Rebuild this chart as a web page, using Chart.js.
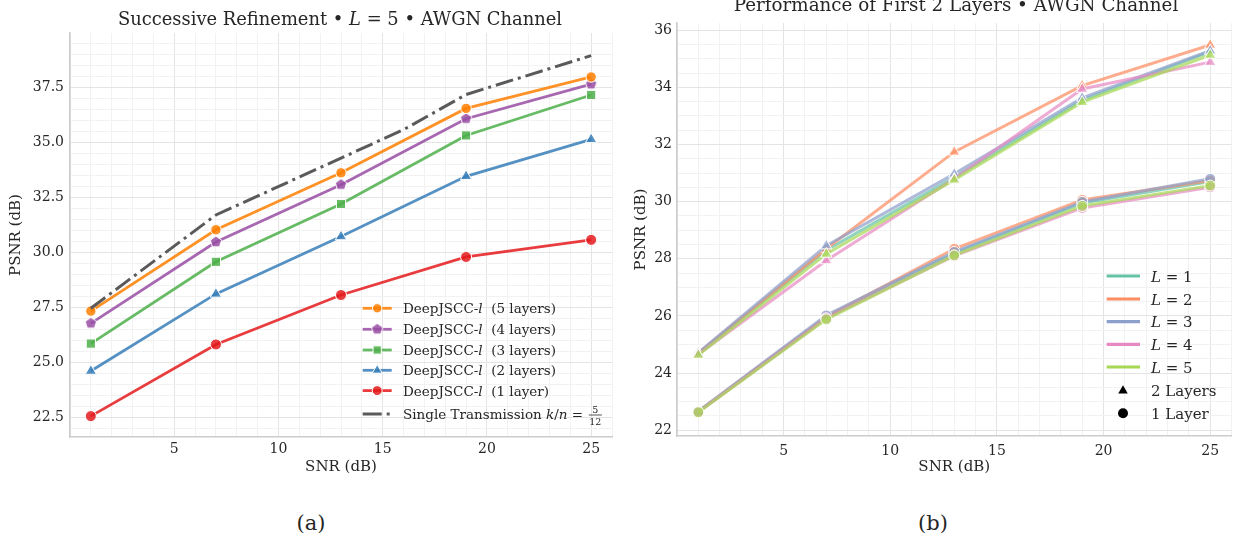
<!DOCTYPE html>
<html>
<head>
<meta charset="utf-8">
<script src="https://cdn.jsdelivr.net/npm/chart.js@4.4.1/dist/chart.umd.min.js"></script>
<style>
    body { margin: 0; background: #fff; width: 1239px; height: 541px; overflow: hidden; position: relative; font-family: 'DejaVu Serif', serif; }
    canvas { position: absolute; top: 0; }
    #grafica_a { left: 0; }
    #grafica_b { left: 630px; }
    .pie { position: absolute; font-size: 21px; color: #262626; transform: translate(-50%, -50%); }
</style>
</head>
<body>
<canvas id="grafica_a" width="630" height="480"></canvas>
<canvas id="grafica_b" width="609" height="480"></canvas>
<div class="pie" style="left:311px; top:523px">(a)</div>
<div class="pie" style="left:933px; top:523px">(b)</div>
<script>
// datos
const snr = [1, 7, 13, 19, 25];

const psnr5Capas = [27.33, 31.03, 33.62, 36.55, 37.98];
const psnr4Capas = [26.77, 30.47, 33.08, 36.08, 37.65];
const psnr3Capas = [25.85, 29.57, 32.20, 35.32, 37.16];
const psnr2Capas = [24.60, 28.11, 30.72, 33.46, 35.14];
const psnr1Capa = [22.55, 25.81, 28.06, 29.79, 30.57];

const snrUnica = [1, 7, 13, 16, 19, 25];
const psnrUnica = [27.46, 31.70, 34.29, 35.58, 37.18, 38.95];

// grafica (b): primeras 2 capas (triangulos) y 1 capa (circulos) por cada L
const dosCapasL1 = [24.68, 28.30, 30.85, 33.55, 35.25];
const dosCapasL2 = [24.70, 28.35, 31.74, 34.06, 35.48];
const dosCapasL3 = [24.72, 28.46, 30.97, 33.63, 35.28];
const dosCapasL4 = [24.66, 27.94, 30.80, 33.94, 34.88];
const dosCapasL5 = [24.63, 28.17, 30.76, 33.48, 35.13];

const unaCapaL1 = [22.65, 25.95, 28.20, 29.95, 30.70];
const unaCapaL2 = [22.66, 25.97, 28.35, 30.06, 30.74];
const unaCapaL3 = [22.67, 26.02, 28.24, 29.99, 30.80];
const unaCapaL4 = [22.64, 25.92, 28.10, 29.78, 30.50];
const unaCapaL5 = [22.63, 25.88, 28.12, 29.85, 30.56];

const etiquetasCapas = ['5 layers', '4 layers', '3 layers', '2 layers', '1 layer'];
const valoresL = ['1', '2', '3', '4', '5'];

const FUENTE = '"DejaVu Serif", serif';
const TEXTO = '#262626';

function puntos(xs, ys) {
    return xs.map((x, i) => ({x: x, y: ys[i]}));
}

function esMultiplo(v, paso) {
    const r = v / paso;
    return Math.abs(r - Math.round(r)) < 1e-6;
}

function colorRejilla(mayor, menor) {
    return (ctx) => {
        const v = ctx.tick.value;
        if (esMultiplo(v, mayor)) return '#e4e4e4';
        if (esMultiplo(v, menor)) return '#f2f2f2';
        return 'rgba(0,0,0,0)';
    };
}

function crearPentagono(color, radio) {
    const c = document.createElement('canvas');
    const lado = Math.ceil(radio * 2 + 4);
    c.width = lado;
    c.height = lado;
    const g = c.getContext('2d');
    g.beginPath();
    for (let i = 0; i < 5; i++) {
        const a = -Math.PI / 2 + i * 2 * Math.PI / 5;
        g.lineTo(lado / 2 + radio * Math.cos(a), lado / 2 + radio * Math.sin(a));
    }
    g.closePath();
    g.fillStyle = color;
    g.fill();
    g.strokeStyle = '#ffffff';
    g.lineWidth = 1;
    g.stroke();
    return c;
}

// texto con partes en cursiva
function textoMixto(ctx, partes, x, y, tam, alinear) {
    let ancho = 0;
    partes.forEach(p => {
        ctx.font = (p[1] ? 'italic ' : '') + tam + 'px ' + FUENTE;
        ancho += ctx.measureText(p[0]).width;
    });
    let cx = alinear === 'center' ? x - ancho / 2 : x;
    ctx.textAlign = 'left';
    ctx.textBaseline = 'alphabetic';
    partes.forEach(p => {
        ctx.font = (p[1] ? 'italic ' : '') + tam + 'px ' + FUENTE;
        ctx.fillText(p[0], cx, y);
        cx += ctx.measureText(p[0]).width;
    });
    return cx;
}

const coloresIzq = ['rgba(255,127,0,0.85)', 'rgba(152,78,163,0.85)', 'rgba(77,175,74,0.85)', 'rgba(55,126,184,0.85)', 'rgba(228,26,28,0.85)'];
const pentagono = crearPentagono(coloresIzq[1], 6);
const formasIzq = ['circle', pentagono, 'rect', 'triangle', 'circle'];
const radiosIzq = [5.2, 6, 6.5, 6.5, 5.5];
const valoresIzq = [psnr5Capas, psnr4Capas, psnr3Capas, psnr2Capas, psnr1Capa];

const coloresDer = ['102,194,165', '252,141,98', '141,160,203', '231,138,195', '166,216,84'];
const dosCapas = [dosCapasL1, dosCapasL2, dosCapasL3, dosCapasL4, dosCapasL5];
const unaCapa = [unaCapaL1, unaCapaL2, unaCapaL3, unaCapaL4, unaCapaL5];

const DASH_PUNTO = [18, 5, 3, 5];

function ejes(cfg) {
    return {
        x: {
            type: 'linear',
            min: 0,
            max: 26,
            afterFit: (s) => { s.height = 40; },
            ticks: {
                stepSize: 1,
                autoSkip: false,
                maxRotation: 0,
                padding: cfg.padX,
                color: TEXTO,
                font: {family: FUENTE, size: 14},
                callback: (v) => (esMultiplo(v, 5) && v > 0) ? String(v) : ''
            },
            grid: {color: colorRejilla(5, 1), drawTicks: false, lineWidth: 1},
            border: {display: true, color: '#cccccc', width: 1.5},
            title: {display: true, text: 'SNR (dB)', color: TEXTO, font: {family: FUENTE, size: 15}, padding: {top: 0, bottom: cfg.padTituloX}}
        },
        y: {
            type: 'linear',
            min: cfg.yMin,
            max: cfg.yMax,
            afterFit: (s) => { s.width = cfg.anchoY; },
            afterBuildTicks: (s) => {
                const marcas = [];
                for (let v = Math.ceil(cfg.yMin / 0.5) * 0.5; v <= cfg.yMax + 1e-9; v += 0.5) {
                    marcas.push({value: +v.toFixed(2)});
                }
                s.ticks = marcas;
            },
            ticks: {
                autoSkip: false,
                padding: cfg.padY,
                color: TEXTO,
                font: {family: FUENTE, size: 14},
                callback: (v) => esMultiplo(v, cfg.pasoY) ? v.toFixed(cfg.decimales) : ''
            },
            grid: {color: colorRejilla(cfg.pasoY, 0.5), drawTicks: false, lineWidth: 1},
            border: {display: true, color: '#cccccc', width: 1.5},
            title: {display: true, text: 'PSNR (dB)', color: TEXTO, font: {family: FUENTE, size: 15}, padding: {top: cfg.padTituloY, bottom: 0}}
        }
    };
}

const leyendaIzq = {
    id: 'leyendaIzq',
    afterDraw(chart) {
        const ctx = chart.ctx;
        ctx.save();
        ctx.fillStyle = TEXTO;
        textoMixto(ctx, [['Successive Refinement \u2022 ', false], ['L', true], [' = 5 \u2022 AWGN Channel', false]], 340, 25, 17.9, 'center');

        const filas = [308.3, 329.3, 350, 370.3, 390.6];
        filas.forEach((y, i) => {
            ctx.strokeStyle = coloresIzq[i];
            ctx.lineWidth = 2.8;
            ctx.beginPath();
            ctx.moveTo(362.7, y);
            ctx.lineTo(391.7, y);
            ctx.stroke();
            ctx.fillStyle = coloresIzq[i];
            ctx.strokeStyle = '#ffffff';
            ctx.lineWidth = 1;
            Chart.helpers.drawPoint(ctx, {pointStyle: formasIzq[i], radius: radiosIzq[i] * 0.9, rotation: 0, borderWidth: 1}, 377.2, y);
            ctx.fillStyle = TEXTO;
            textoMixto(ctx, [['DeepJSCC-', false], ['l', true], ['  (' + etiquetasCapas[i] + ')', false]], 403, y + 5, 13.5, 'left');
        });

        const yU = 414;
        ctx.strokeStyle = '#5a5a5a';
        ctx.lineWidth = 3;
        ctx.setLineDash([19, 5, 3, 5]);
        ctx.beginPath();
        ctx.moveTo(362.7, yU);
        ctx.lineTo(391.7, yU);
        ctx.stroke();
        ctx.setLineDash([]);
        ctx.fillStyle = TEXTO;
        const fin = textoMixto(ctx, [['Single Transmission ', false], ['k', true], ['/', false], ['n', true], [' = ', false]], 403, yU + 4.5, 13.5, 'left');
        ctx.font = '9.5px ' + FUENTE;
        ctx.textAlign = 'center';
        const cx = fin + 8;
        ctx.fillText('5', cx, yU - 1.5);
        ctx.fillText('12', cx, yU + 10.5);
        ctx.lineWidth = 0.8;
        ctx.strokeStyle = TEXTO;
        ctx.beginPath();
        ctx.moveTo(cx - 6.5, yU + 1);
        ctx.lineTo(cx + 6.5, yU + 1);
        ctx.stroke();
        ctx.restore();
    }
};

const leyendaDer = {
    id: 'leyendaDer',
    afterDraw(chart) {
        const ctx = chart.ctx;
        ctx.save();
        ctx.fillStyle = TEXTO;
        textoMixto(ctx, [['Performance of First 2 Layers \u2022 AWGN Channel', false]], 326, 11, 18.3, 'center');

        const filas = [276, 299, 321.7, 344.3, 367];
        filas.forEach((y, i) => {
            ctx.strokeStyle = 'rgb(' + coloresDer[i] + ')';
            ctx.lineWidth = 3.2;
            ctx.beginPath();
            ctx.moveTo(476.7, y);
            ctx.lineTo(510, y);
            ctx.stroke();
            ctx.fillStyle = TEXTO;
            textoMixto(ctx, [['L', true], [' = ' + valoresL[i], false]], 521, y + 5.5, 15, 'left');
        });
        ctx.fillStyle = '#000000';
        ctx.strokeStyle = '#000000';
        Chart.helpers.drawPoint(ctx, {pointStyle: 'triangle', radius: 5.5, rotation: 0, borderWidth: 0}, 493, 390.7);
        Chart.helpers.drawPoint(ctx, {pointStyle: 'circle', radius: 5, rotation: 0, borderWidth: 0}, 493, 413.3);
        ctx.fillStyle = TEXTO;
        textoMixto(ctx, [['2 Layers', false]], 521, 396.2, 15, 'left');
        textoMixto(ctx, [['1 Layer', false]], 521, 418.8, 15, 'left');
        ctx.restore();
    }
};

function dibujarGraficas() {
    const conjuntosIzq = valoresIzq.map((vals, i) => ({
        data: puntos(snr, vals),
        borderColor: coloresIzq[i],
        backgroundColor: coloresIzq[i],
        pointBackgroundColor: coloresIzq[i],
        pointBorderColor: '#ffffff',
        pointBorderWidth: 1,
        pointStyle: formasIzq[i],
        pointRadius: radiosIzq[i],
        borderWidth: 2.8,
        tension: 0,
        order: i + 1
    }));
    conjuntosIzq.push({
        data: puntos(snrUnica, psnrUnica),
        borderColor: '#5a5a5a',
        borderWidth: 3,
        borderDash: DASH_PUNTO,
        borderCapStyle: 'butt',
        pointRadius: 0,
        tension: 0,
        order: 0
    });

    new Chart(document.getElementById('grafica_a'), {
        type: 'line',
        data: {datasets: conjuntosIzq},
        options: {
            responsive: false,
            animation: false,
            events: [],
            layout: {padding: {left: 0, top: 33, right: 18, bottom: 3}},
            plugins: {legend: {display: false}, tooltip: {enabled: false}},
            scales: ejes({padX: 4, padTituloX: 1, padY: 6, padTituloY: 7, anchoY: 70, yMin: 21.6, yMax: 39.98, pasoY: 2.5, decimales: 1})
        },
        plugins: [leyendaIzq]
    });

    const conjuntosDer = [];
    dosCapas.forEach((vals, i) => {
        const color = 'rgba(' + coloresDer[i] + ',0.72)';
        conjuntosDer.push({
            data: puntos(snr, vals),
            borderColor: color,
            pointBackgroundColor: color,
            pointBorderColor: '#ffffff',
            pointBorderWidth: 1,
            pointStyle: 'triangle',
            pointRadius: 6.5,
            borderWidth: 3,
            tension: 0,
            order: 20 - 2 * i
        });
        conjuntosDer.push({
            data: puntos(snr, unaCapa[i]),
            borderColor: color,
            pointBackgroundColor: color,
            pointBorderColor: '#ffffff',
            pointBorderWidth: 1,
            pointStyle: 'circle',
            pointRadius: 5.5,
            borderWidth: 3,
            tension: 0,
            order: 19 - 2 * i
        });
    });

    new Chart(document.getElementById('grafica_b'), {
        type: 'line',
        data: {datasets: conjuntosDer},
        options: {
            responsive: false,
            animation: false,
            events: [],
            layout: {padding: {left: 0, top: 23, right: 6, bottom: 4}},
            plugins: {legend: {display: false}, tooltip: {enabled: false}},
            scales: ejes({padX: 7, padTituloX: 0, padY: 5, padTituloY: 2, anchoY: 47, yMin: 21.8, yMax: 36.25, pasoY: 2, decimales: 0})
        },
        plugins: [leyendaDer]
    });
}

dibujarGraficas();
</script>
</body>
</html>
